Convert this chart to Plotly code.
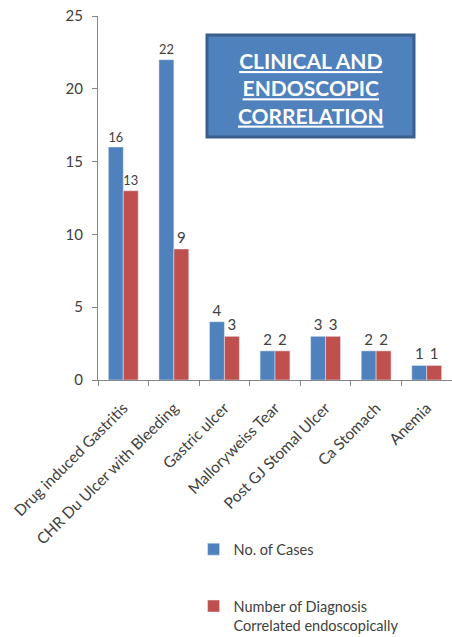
import plotly.graph_objects as go

categories = ["Drug induced Gastritis", "CHR Du Ulcer with Bleeding", "Gastric ulcer",
              "Malloryweiss Tear", "Post GJ Stomal Ulcer", "Ca Stomach", "Anemia"]
cases = [16, 22, 4, 2, 3, 2, 1]
correlated = [13, 9, 3, 2, 3, 2, 1]
series_names = ["No. of Cases", "Number of Diagnosis<br>Correlated endoscopically"]
title_text = "<b><u>CLINICAL AND</u></b><br><b><u>ENDOSCOPIC</u></b><br><b><u>CORRELATION</u></b>"

FONT = "Lato, 'Open Sans', sans-serif"
TXT = "#404040"

fig = go.Figure()
fig.add_trace(go.Bar(x=categories, y=cases, name=series_names[0], legendgroup="a",
                     marker_color="#4F81BD", text=cases, textposition="outside",
                     textfont=dict(size=15, color=TXT, family=FONT), cliponaxis=False))
fig.add_trace(go.Bar(x=categories, y=correlated, name=series_names[1], legendgroup="b",
                     marker_color="#C0504D", text=correlated, textposition="outside",
                     textfont=dict(size=15, color=TXT, family=FONT), cliponaxis=False))

fig.update_layout(
    width=452, height=637,
    margin=dict(l=98, r=0, t=16, b=257, autoexpand=False),
    paper_bgcolor="white", plot_bgcolor="white",
    barmode="group", bargap=0.41, bargroupgap=0,
    font=dict(family=FONT, size=14, color=TXT),
    showlegend=True,
    legend=dict(x=0.27, y=-0.421, xanchor="left", yanchor="top",
                font=dict(size=14.5, color=TXT, family=FONT),
                tracegroupgap=35, valign="top", itemwidth=30, bgcolor="rgba(0,0,0,0)"),
    xaxis=dict(type="category", tickangle=-45, showline=True, linecolor="#868686",
               ticks="outside", tickson="boundaries", ticklen=5, tickcolor="#868686",
               ticklabelstandoff=12, automargin=False,
               tickfont=dict(size=15.5, color=TXT, family=FONT), showgrid=False),
    yaxis=dict(range=[0, 25], dtick=5, showline=True, linecolor="#868686",
               ticks="outside", ticklen=5, tickcolor="#868686", showgrid=False,
               zeroline=False, ticklabelstandoff=6, automargin=False,
               tickfont=dict(size=15, color=TXT, family=FONT)),
    shapes=[dict(type="rect", xref="paper", yref="paper",
                 x0=(207 - 98) / 354, x1=(414 - 98) / 354,
                 y0=(380 - 137) / 364, y1=(380 - 35) / 364,
                 fillcolor="#4F81BD", line=dict(color="#3A5F8B", width=3))],
    annotations=[dict(text=title_text, xref="paper", yref="paper",
                      x=(310.5 - 98) / 354, y=(380 - 88) / 364,
                      xanchor="center", yanchor="middle", showarrow=False,
                      font=dict(size=21, color="white", family=FONT))],
)

fig.write_html("out.html")
